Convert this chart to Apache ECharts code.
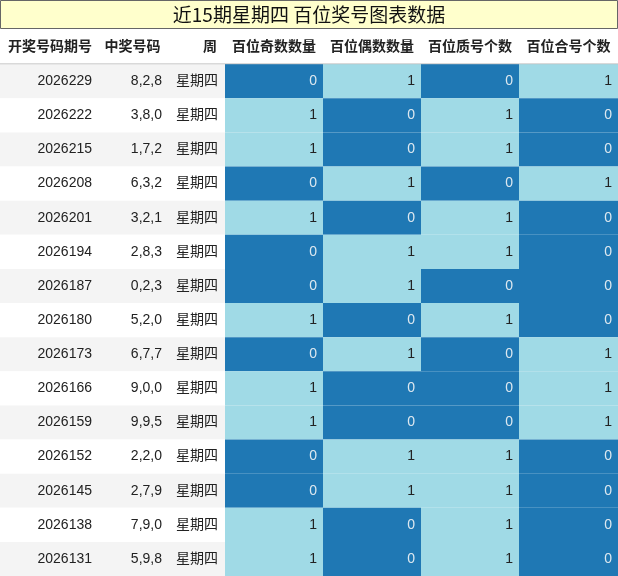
<!DOCTYPE html><html><head><meta charset="utf-8">
<script src="https://cdn.jsdelivr.net/npm/echarts@6/dist/echarts.min.js"></script>
<style>html,body{margin:0;padding:0;background:#fff}#c{width:618px;height:576px}</style></head><body><div id="c"></div>
<script>
const titleText = '近15期星期四 百位奖号图表数据';
const headers = ['开奖号码期号','中奖号码','周','百位奇数数量','百位偶数数量','百位质号个数','百位合号个数'];
const periods = ['2026229','2026222','2026215','2026208','2026201','2026194','2026187','2026180','2026173','2026166','2026159','2026152','2026145','2026138','2026131'];
const numbers = ['8,2,8','3,8,0','1,7,2','6,3,2','3,2,1','2,8,3','0,2,3','5,2,0','6,7,7','9,0,0','9,9,5','2,2,0','2,7,9','7,9,0','5,9,8'];
const weekday = '星期四';
const oddCnt   = [0,1,1,0,1,0,0,1,0,1,1,0,0,1,1];
const evenCnt  = [1,0,0,1,0,1,1,0,1,0,0,1,1,0,0];
const primeCnt = [0,1,1,0,1,1,0,1,0,0,0,1,1,1,1];
const compCnt  = [1,0,0,1,0,0,0,0,1,1,1,0,0,0,0];

const colEdges = [0,100,165,225,323,421,519,618];
const DARK='#1f78b4', LIGHT='#a0dae6';
const rowCats = ['h'].concat(periods);
const data = rowCats.map((_,i)=>[i]);
const chart = echarts.init(document.getElementById('c'));
function renderItem(params, api){
  const r = api.value(0);
  const h = api.size([0,1])[1];
  const yc = api.coord([0,r])[1];
  const y0 = yc - h/2;
  const X = e=>api.coord([e,r])[0];
  const ch = [];
  const txt=(x,t,align,opt)=>ch.push({type:'text',style:Object.assign({x:x,y:yc,text:t,align:align,verticalAlign:'middle',fontFamily:'Liberation Sans, Noto Sans CJK SC',fontSize:14,fill:'#222'},opt||{})});
  if(r===0){
    ch.push({type:'rect',shape:{x:0,y:y0,width:618,height:h},style:{fill:'#fff'}});
    ch.push({type:'line',shape:{x1:0,y1:y0+h,x2:618,y2:y0+h},style:{stroke:'#999',lineWidth:1}});
    headers.forEach((t,k)=>{
      let x=(X(colEdges[k])+X(colEdges[k+1]))/2, a='center';
      if(k===2){x=X(colEdges[3])-8;a='right';}
      txt(x,t,a,{fontWeight:'bold'});
    });
  } else {
    const i=r-1;
    ch.push({type:'rect',shape:{x:0,y:y0,width:X(colEdges[3]),height:h},style:{fill:i%2===0?'#f4f4f4':'#fff'}});
    txt(X(colEdges[1])-8,periods[i],'right');
    txt(X(colEdges[2])-3,numbers[i],'right');
    txt((X(colEdges[2])+X(colEdges[3]))/2+2,weekday,'center');
    [oddCnt,evenCnt,primeCnt,compCnt].forEach((arr,k)=>{
      const v=arr[i], xa=X(colEdges[3+k]), xb=X(colEdges[4+k]);
      ch.push({type:'rect',shape:{x:xa,y:y0,width:xb-xa,height:h},style:{fill:v?LIGHT:DARK}});
      txt(xb-6,String(v),'right',{fill:v?'#222':'#dde8f0'});
    });
  }
  return {type:'group',children:ch};
}
chart.setOption({
  animation:false,
  graphic:[{type:'rect',shape:{x:0.5,y:0.5,width:617,height:28},style:{fill:'#ffffcc',stroke:'#666',lineWidth:1}},
           {type:'text',left:'center',top:5,style:{text:titleText,fontSize:19,fill:'#111',fontFamily:'Noto Sans CJK SC'}}],
  grid:{left:0,right:0,top:30,bottom:0},
  xAxis:{type:'value',min:0,max:618,show:false},
  yAxis:{type:'category',data:rowCats,inverse:true,show:false},
  series:[{type:'custom',renderItem:renderItem,data:data,encode:{y:0}}]
});
</script></body></html>
